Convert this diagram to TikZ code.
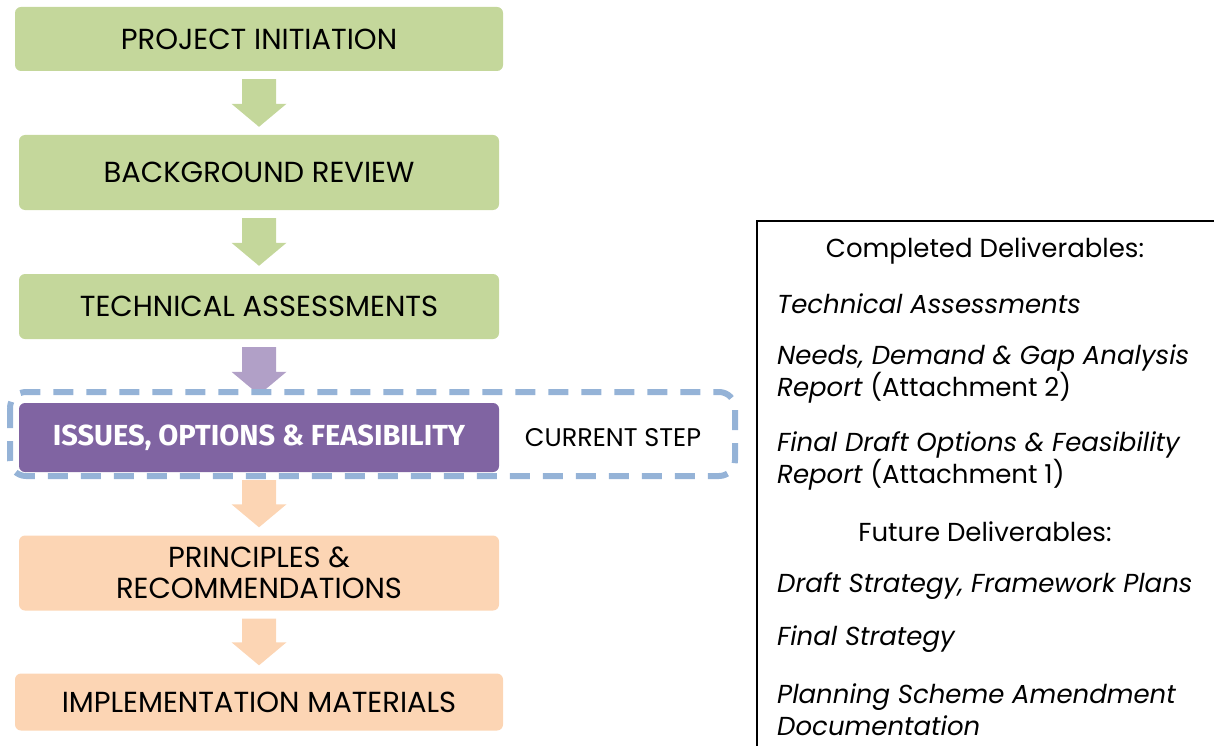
\documentclass[tikz,border=0pt]{standalone}
\usepackage{fontspec}
\setmainfont{Poppins}
\newfontfamily\headfont{Fira Sans}
\usetikzlibrary{calc}

\definecolor{stepgreen}{HTML}{C4D79B}
\definecolor{steppurple}{HTML}{8064A2}
\definecolor{arrowpurple}{HTML}{B1A0C7}
\definecolor{steppeach}{HTML}{FCD5B4}
\definecolor{frameblue}{HTML}{95B3D7}

\tikzset{
  stepbox/.style={rectangle, rounded corners=6pt, minimum width=480pt, inner sep=0pt,
    align=center, font=\fontsize{29}{31}\selectfont},
  wide/.style={minimum width=488pt},
  listhead/.style={font=\fontsize{26}{32}\selectfont},
  listitem/.style={anchor=west, align=left, inner sep=0pt, font=\fontsize{26}{32}\selectfont\itshape},
}

% block arrow between two stacked boxes
\newcommand\steparrow[3]{%
  \fill[#3] ($(#1.south)+(-17,8)$) -- ($(#1.south)+(17,8)$)
    -- ($(#2.north)+(17,-31)$) -- ($(#2.north)+(27.5,-31)$)
    -- ($(#2.north)+(0,-8)$)
    -- ($(#2.north)+(-27.5,-31)$) -- ($(#2.north)+(-17,-31)$) -- cycle;}

\begin{document}
\begin{tikzpicture}[x=1pt, y=-1pt]
  \useasboundingbox (0,0) rectangle (1214,746);

  % process steps
  \node[stepbox, wide, fill=stepgreen, minimum height=64pt] (init) at (259,39) {PROJECT INITIATION};
  \node[stepbox, fill=stepgreen, minimum height=75pt] (review) at (259,172.5) {BACKGROUND REVIEW};
  \node[stepbox, fill=stepgreen, minimum height=65pt] (tech) at (259,306.5) {TECHNICAL ASSESSMENTS};
  \node[stepbox, fill=steppurple, minimum height=69pt, text=white,
        font=\headfont\bfseries\fontsize{29}{31}\selectfont] (issues) at (259,437.5) {ISSUES, OPTIONS \& FEASIBILITY};
  \node[stepbox, fill=steppeach, minimum height=75pt] (princ) at (259,573) {PRINCIPLES \&\\RECOMMENDATIONS};
  \node[stepbox, wide, fill=steppeach, minimum height=57pt] (impl) at (259,702) {IMPLEMENTATION MATERIALS};

  % arrows
  \steparrow{init}{review}{stepgreen}
  \steparrow{review}{tech}{stepgreen}
  \steparrow{tech}{issues}{arrowpurple}
  \steparrow{issues}{princ}{steppeach}
  \steparrow{princ}{impl}{steppeach}

  % current step frame
  \node[font=\fontsize{25.5}{28}\selectfont] (cur) at (613,437.5) {CURRENT STEP};
  \draw[frameblue, line width=6pt, rounded corners=16pt, dash pattern=on 20pt off 13pt]
    (10,392) rectangle (735,476);

  % deliverables panel
  \draw[line width=1.5pt] (757,746) -- (757,221) -- (1214,221);
  \node[listhead] (done) at (985,251) {Completed Deliverables:};
  \node[listitem] (d1) at (777,304) {Technical Assessments};
  \node[listitem] (d2) at (777,374) {Needs, Demand \& Gap Analysis\\Report {\upshape(Attachment 2)}};
  \node[listitem] (d3) at (777,461) {Final Draft Options \& Feasibility\\Report {\upshape(Attachment 1)}};
  \node[listhead] (todo) at (985,532) {Future Deliverables:};
  \node[listitem] (f1) at (777,586) {Draft Strategy, Framework Plans};
  \node[listitem] (f2) at (777,639) {Final Strategy};
  \node[listitem] (f3) at (777,710) {Planning Scheme Amendment\\Documentation};
\end{tikzpicture}
\end{document}
